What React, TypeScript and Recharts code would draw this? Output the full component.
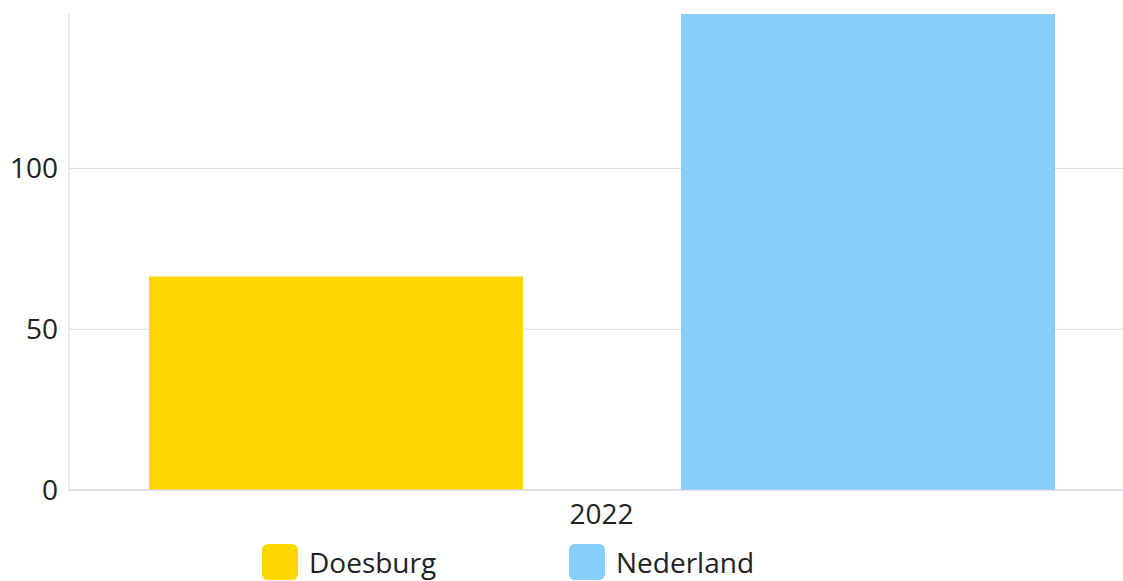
import React from 'react'
import { BarChart, Bar, XAxis, YAxis, CartesianGrid, Legend } from 'recharts'

const years = ['2022']
const doesburg = [66.4]
const nederland = [148]
const yTicks = [0, 50, 100]

const seriesNames = ['Doesburg', 'Nederland']
const seriesColors = ['#FFD700', '#87CEFA']

const data = years.map((year, i) => ({
  year,
  Doesburg: doesburg[i],
  Nederland: nederland[i],
}))

const FONT = '"Segoe UI", "Open Sans", sans-serif'

// legenda met afgeronde vierkantjes
const LegendContent = () => (
  <div style={{ display: 'flex', justifyContent: 'center', paddingLeft: 4, fontFamily: FONT }}>
    {seriesNames.map((name, i) => (
      <div key={name} style={{ width: 307, display: 'flex', alignItems: 'center' }}>
        <span
          style={{
            width: 36,
            height: 36,
            borderRadius: 6,
            background: seriesColors[i],
            display: 'inline-block',
          }}
        />
        <span style={{ marginLeft: 11, fontSize: 28, color: '#222' }}>{name}</span>
      </div>
    ))}
  </div>
)

export default function App() {
  return (
    <div style={{ position: 'absolute', left: 0, top: 0, width: 1123, height: 581, overflow: 'hidden', background: '#fff' }}>
      <BarChart
        width={1140}
        height={587}
        data={data}
        margin={{ top: 14, right: 6, left: 0, bottom: 0 }}
        barCategoryGap={80}
        barGap={158}
      >
        <CartesianGrid vertical={false} stroke="#d3d8e2" horizontalValues={yTicks} />
        <XAxis
          dataKey="year"
          stroke="#d3d8e2"
          tickLine={false}
          tickMargin={8}
          height={53}
          tick={{ fontSize: 28, fill: '#222', fontFamily: FONT }}
        />
        <YAxis
          domain={[0, 148]}
          ticks={yTicks}
          width={69}
          stroke="#d3d8e2"
          tickLine={false}
          tickMargin={5}
          tick={{ fontSize: 28, fill: '#222', fontFamily: FONT }}
        />
        <Legend verticalAlign="bottom" height={44} content={<LegendContent />} />
        {seriesNames.map((name, i) => (
          <Bar key={name} dataKey={name} fill={seriesColors[i]} isAnimationActive={false} />
        ))}
      </BarChart>
    </div>
  )
}
